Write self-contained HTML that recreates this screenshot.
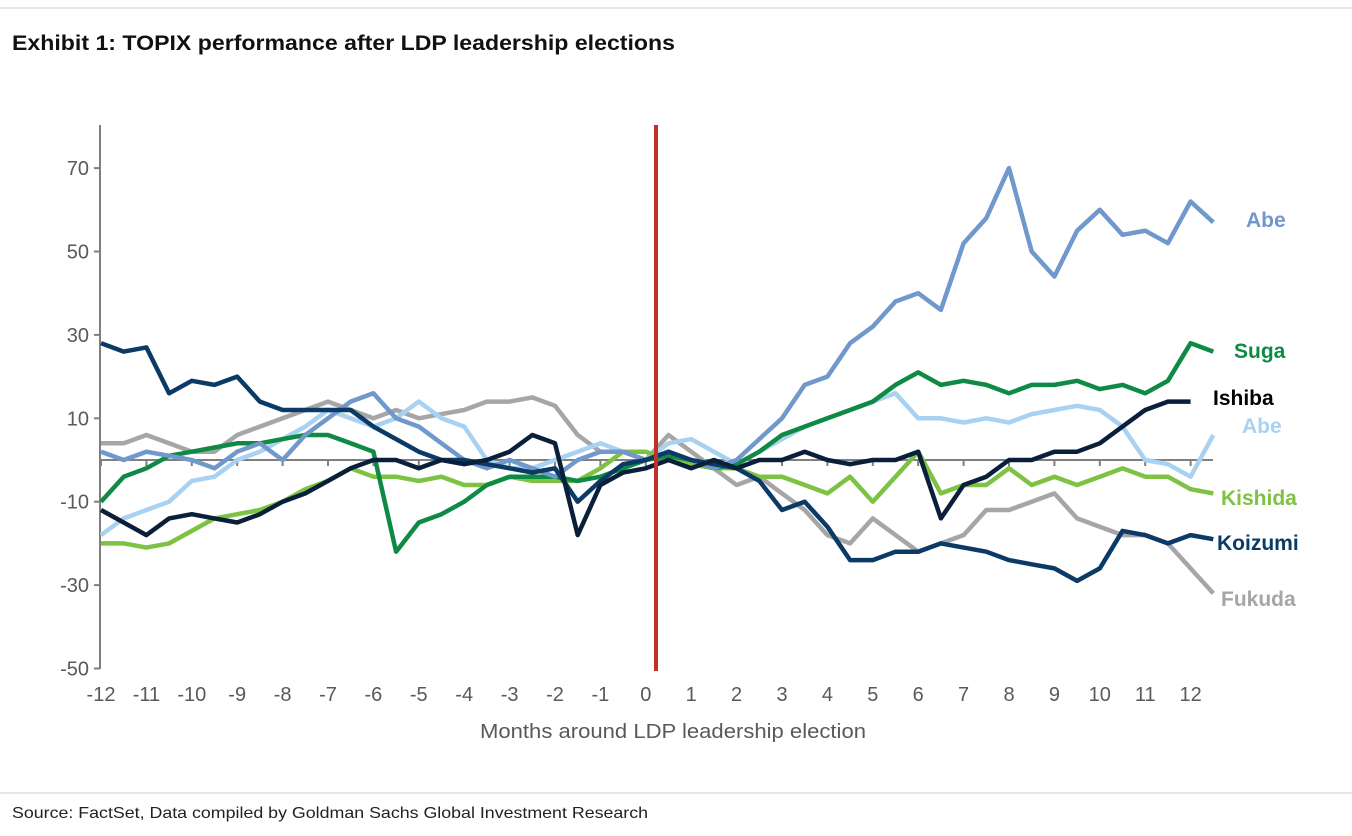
<!DOCTYPE html>
<html><head><meta charset="utf-8"><style>
body{margin:0;background:#fff;width:1352px;height:831px;overflow:hidden;font-family:"Liberation Sans",sans-serif}
</style></head><body>
<svg width="1352" height="831">
<line x1="0" y1="8" x2="1352" y2="8" stroke="#ccc"/>
<text x="12" y="50" font-size="21" font-weight="bold" fill="#111" textLength="663" lengthAdjust="spacingAndGlyphs">Exhibit 1: TOPIX performance after LDP leadership elections</text>
<line x1="0" y1="793" x2="1352" y2="793" stroke="#ccc"/>
<text x="12" y="818" font-size="16" fill="#222" textLength="636" lengthAdjust="spacingAndGlyphs">Source: FactSet, Data compiled by Goldman Sachs Global Investment Research</text>
<g id="axes"></g>
<g id="series"></g>
<text x="480" y="738" font-size="20" fill="#595959" textLength="386" lengthAdjust="spacingAndGlyphs">Months around LDP leadership election</text>
</svg>
<script>
const months=[];for(let m=-12;m<=12.5;m+=0.5)months.push(m);
const yTicks=[70,50,30,10,-10,-30,-50];
const xTicks=[-12,-11,-10,-9,-8,-7,-6,-5,-4,-3,-2,-1,0,1,2,3,4,5,6,7,8,9,10,11,12];
const fukuda=[4,4,6,4,2,2,6,8,10,12,14,12,10,12,10,11,12,14,14,15,13,6,2,2,0,6,2,-2,-6,-4,-8,-12,-18,-20,-14,-18,-22,-20,-18,-12,-12,-10,-8,-14,-16,-18,-18,-20,-26,-32];
const abeLight=[-18,-14,-12,-10,-5,-4,0,2,5,8,12,10,8,10,14,10,8,0,-2,-2,0,2,4,2,0,4,5,2,-1,2,5,8,10,12,14,16,10,10,9,10,9,11,12,13,12,8,0,-1,-4,6];
const kishida=[-20,-20,-21,-20,-17,-14,-13,-12,-10,-7,-5,-2,-4,-4,-5,-4,-6,-6,-4,-5,-5,-5,-2,2,2,0,-1,-2,-2,-4,-4,-6,-8,-4,-10,-4,2,-8,-6,-6,-2,-6,-4,-6,-4,-2,-4,-4,-7,-8];
const suga=[-10,-4,-2,1,2,3,4,4,5,6,6,4,2,-22,-15,-13,-10,-6,-4,-4,-4,-5,-4,-2,0,1,0,-2,-1,2,6,8,10,12,14,18,21,18,19,18,16,18,18,19,17,18,16,19,28,26];
const abe=[2,0,2,1,0,-2,2,4,0,6,10,14,16,10,8,4,0,-2,0,-2,-4,0,2,2,0,2,0,-2,0,5,10,18,20,28,32,38,40,36,52,58,70,50,44,55,60,54,55,52,62,57];
const koizumi=[28,26,27,16,19,18,20,14,12,12,12,12,8,5,2,0,0,-1,-2,-3,-2,-10,-5,-1,0,2,0,-1,-2,-5,-12,-10,-16,-24,-24,-22,-22,-20,-21,-22,-24,-25,-26,-29,-26,-17,-18,-20,-18,-19];
const ishiba=[-12,-15,-18,-14,-13,-14,-15,-13,-10,-8,-5,-2,0,0,-2,0,-1,0,2,6,4,-18,-6,-3,-2,0,-2,0,-2,0,0,2,0,-1,0,0,2,-14,-6,-4,0,0,2,2,4,8,12,14,14];
const seriesNames=["fukuda","abe-2006","kishida","suga","abe-2012","koizumi","ishiba"];
const seriesData=[fukuda,abeLight,kishida,suga,abe,koizumi,ishiba];
const seriesColors=["#a6a6a6","#a9d2f2","#7dc242","#0e8a45","#7098cc","#0b3a66","#0a1f3a"];
const labelText=["Fukuda","Abe","Kishida","Suga","Abe","Koizumi","Ishiba"];
const labelY=[599,426,498,351,220,543,398];
const labelX=[1221,1242,1221,1234,1246,1217,1213];
const ns="http://www.w3.org/2000/svg";
const X=m=>101+(m+12)*45.4;
const Y=v=>460-v*4.17;
const ax=document.getElementById('axes'),sg=document.getElementById('series');
function mk(t,a,p){const e=document.createElementNS(ns,t);for(const k in a)e.setAttribute(k,a[k]);p.appendChild(e);return e;}
const yl=mk('line',{x1:100,y1:125,x2:100,y2:669,stroke:'#7f7f7f','stroke-width':2},ax);


yTicks.forEach(v=>{
  mk('line',{x1:94,y1:Y(v),x2:100,y2:Y(v),stroke:'#7f7f7f','stroke-width':2},ax);
  const t=mk('text',{x:89,y:Y(v)+7,'font-size':20,fill:'#595959','text-anchor':'end'},ax);t.textContent=v;
  
  
});
const zl=mk('line',{x1:100,y1:Y(0),x2:1213,y2:Y(0),stroke:'#7f7f7f','stroke-width':2},ax);


xTicks.forEach(m=>{
  mk('line',{x1:X(m),y1:Y(0),x2:X(m),y2:Y(0)+6,stroke:'#7f7f7f','stroke-width':2},ax);
  const t=mk('text',{x:X(m),y:701,'font-size':20,fill:'#595959','text-anchor':'middle'},ax);t.textContent=m;
  
  
});
seriesData.forEach((d,i)=>{
  const pts=d.map((v,j)=>X(months[j]).toFixed(1)+','+Y(v).toFixed(1)).join(' ');
  const p=mk('polyline',{points:pts,fill:'none',stroke:seriesColors[i],'stroke-width':4.5,'stroke-linejoin':'round'},sg);
  
  
  const t=mk('text',{x:labelX[i],y:labelY[i]+7,'font-size':21,'font-weight':'bold',fill:seriesColors[i]==='#0a1f3a'?'#000':seriesColors[i]},sg);
  t.textContent=labelText[i];
  
  
});
const rl=mk('line',{x1:656,y1:125,x2:656,y2:671,stroke:'#c0302a','stroke-width':4},sg);


</script>
</body></html>
